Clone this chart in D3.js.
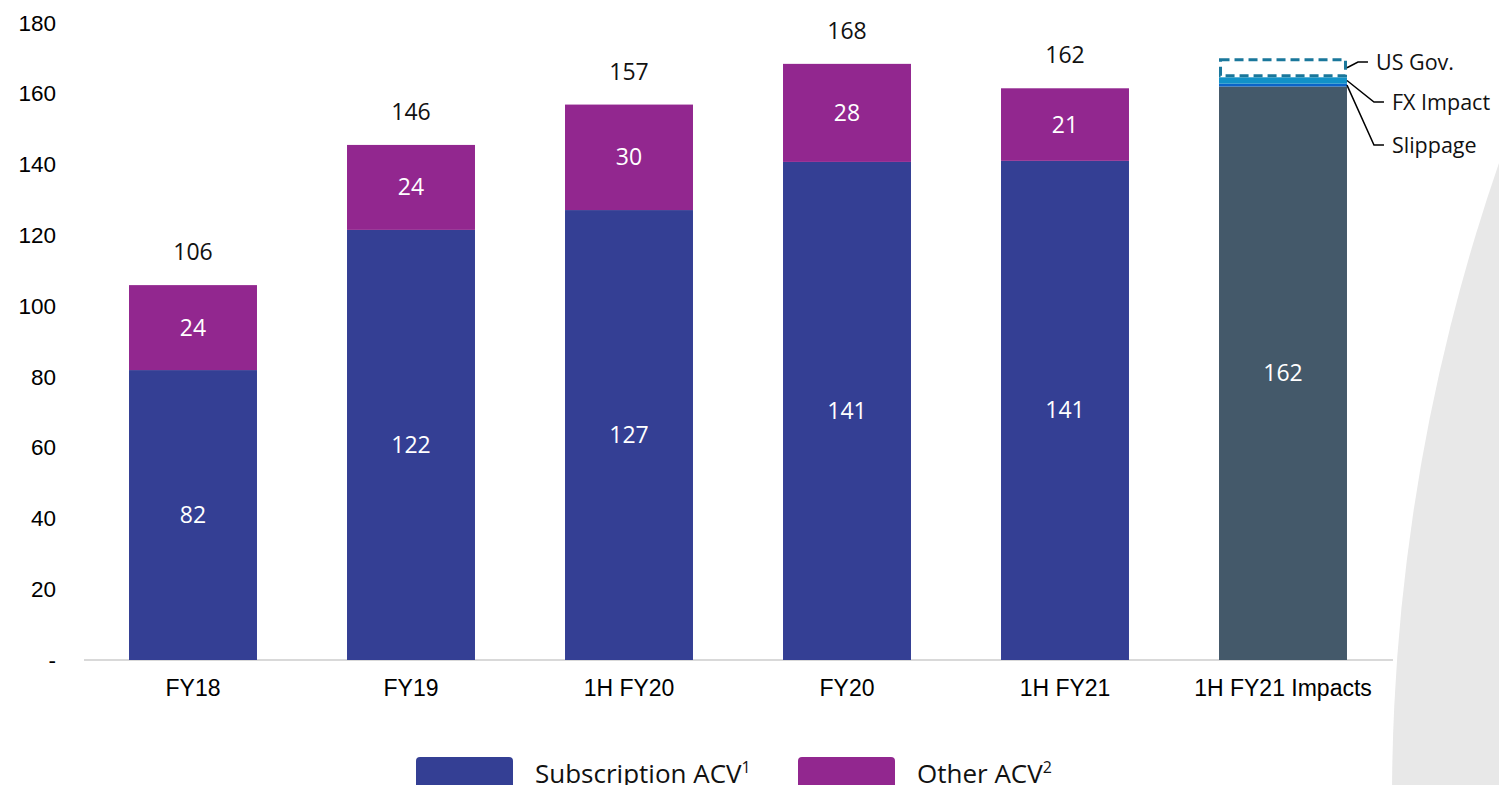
<!DOCTYPE html>
<html><head><meta charset="utf-8">
<script src="https://cdn.jsdelivr.net/npm/d3@7"></script>
<style>
html,body{margin:0;padding:0;background:#fff;}
svg{display:block;}
</style>
</head><body>
<svg id="chart" width="1499" height="785"></svg>
<script>
const categories = ["FY18","FY19","1H FY20","FY20","1H FY21","1H FY21 Impacts"];
const subscriptionACV = [81.9,121.5,127.1,140.7,141.0];
const otherACV = [24.0,24.0,29.8,27.7,20.5];
const impactBase = 162;
const impactNames = ["Slippage","FX Impact","US Gov."];
const impactValues = [0.8,1.8,5.4];
const yTicks = [0,20,40,60,80,100,120,140,160,180];

const svg = d3.select("#chart");

// background decorative shape
const R = 1950, cx = 1392 + R, cy = 800;
svg.append("circle").attr("cx",cx).attr("cy",cy).attr("r",R).attr("fill","#e8e8e8");

const x = d3.scaleBand().domain(categories).range([84,1392]).paddingInner(0.413).paddingOuter(0.2065);
const y = d3.scaleLinear().domain([0,180]).range([660,22.8]);

const colSub = "#343f94", colOther = "#92278f", colGray = "#44596a";
const fontNum = "'Open Sans', 'Noto Sans', sans-serif";
const fontAxis = "'Liberation Sans', Arial, sans-serif";

// axis line
svg.append("line").attr("x1",84).attr("x2",1393).attr("y1",y(0)).attr("y2",y(0))
  .attr("stroke","#d9d9d9").attr("stroke-width",2);

// y axis
const ya = svg.append("g").attr("transform","translate(56,0)")
  .call(d3.axisLeft(y).tickValues(yTicks).tickSize(0).tickPadding(0).tickFormat(d=> d===0 ? "-" : d));
ya.select(".domain").remove();
ya.selectAll("text").attr("font-family",fontAxis).attr("font-size",22.5).attr("fill","#000");

// x axis
const xa = svg.append("g").attr("transform",`translate(0,${y(0)})`)
  .call(d3.axisBottom(x).tickSize(0).tickPadding(20));
xa.select(".domain").remove();
xa.selectAll("text").attr("font-family",fontAxis).attr("font-size",23).attr("fill","#000");

const main = categories.slice(0,5).map((c,i)=>({c, s:subscriptionACV[i], o:otherACV[i], t:subscriptionACV[i]+otherACV[i]}));

const g = svg.append("g");
g.selectAll(".sub").data(main).join("rect")
  .attr("x",d=>x(d.c)).attr("width",x.bandwidth())
  .attr("y",d=>y(d.s)).attr("height",d=>y(0)-y(d.s)).attr("fill",colSub);
g.selectAll(".oth").data(main).join("rect")
  .attr("x",d=>x(d.c)).attr("width",x.bandwidth())
  .attr("y",d=>y(d.s+d.o)).attr("height",d=>y(d.s)-y(d.s+d.o)).attr("fill",colOther);

const fs = 23;
g.selectAll(".ls").data(main).join("text")
  .attr("x",d=>x(d.c)+x.bandwidth()/2).attr("y",d=>y(d.s/2)).attr("dy","0.35em")
  .attr("text-anchor","middle").attr("font-family",fontNum).attr("font-size",fs).attr("fill","#fff")
  .text(d=>Math.round(d.s));
g.selectAll(".lo").data(main).join("text")
  .attr("x",d=>x(d.c)+x.bandwidth()/2).attr("y",d=>y(d.s+d.o/2)).attr("dy","0.35em")
  .attr("text-anchor","middle").attr("font-family",fontNum).attr("font-size",fs).attr("fill","#fff")
  .text(d=>Math.round(d.o));
g.selectAll(".lt").data(main).join("text")
  .attr("x",d=>x(d.c)+x.bandwidth()/2).attr("y",d=>y(d.t)-33).attr("dy","0.35em")
  .attr("text-anchor","middle").attr("font-family",fontNum).attr("font-size",fs).attr("fill","#111")
  .text(d=>Math.round(d.t));

// impacts bar
const ic = categories[5];
const ix = x(ic), bw = x.bandwidth();
g.append("rect").attr("x",ix).attr("width",bw).attr("y",y(impactBase)).attr("height",y(0)-y(impactBase)).attr("fill",colGray);
g.append("text").attr("x",ix+bw/2).attr("y",y(impactBase/2)).attr("dy","0.35em")
  .attr("text-anchor","middle").attr("font-family",fontNum).attr("font-size",fs).attr("fill","#fff").text(impactBase);

let cum = impactBase;
const segs = impactValues.map((v,i)=>{const s={name:impactNames[i], y0:cum, y1:cum+v}; cum+=v; return s;});
g.append("rect").attr("x",ix).attr("width",bw).attr("y",y(segs[0].y1)).attr("height",y(segs[0].y0)-y(segs[0].y1)).attr("fill","#0b64c8");
g.append("rect").attr("x",ix).attr("width",bw).attr("y",y(segs[1].y1)).attr("height",y(segs[1].y0)-y(segs[1].y1)).attr("fill","#1192c8");
g.append("rect").attr("x",ix+1.5).attr("width",bw-3).attr("y",y(segs[2].y1)+1.5).attr("height",y(segs[2].y0)-y(segs[2].y1)-3)
  .attr("fill","none").attr("stroke","#1a779b").attr("stroke-width",3).attr("stroke-dasharray","9,5");

// annotations
const right = ix+bw;
const ann = [
  {seg:segs[2], ty:62, pts:[[right,y((segs[2].y0+segs[2].y1)/2)],[right+11,62],[right+21,62]], tx:right+29},
  {seg:segs[1], ty:102, pts:[[right,y((segs[1].y0+segs[1].y1)/2)],[right+27,102],[right+37,102]], tx:right+45},
  {seg:segs[0], ty:145, pts:[[right,y((segs[0].y0+segs[0].y1)/2)],[right+27,145],[right+37,145]], tx:right+45}
];
ann.forEach(a=>{
  svg.append("path").attr("d",d3.line()(a.pts)).attr("fill","none").attr("stroke","#000").attr("stroke-width",1.5);
  svg.append("text").attr("x",a.tx).attr("y",a.ty).attr("dy","0.35em")
    .attr("font-family",fontNum).attr("font-size",21.5).attr("fill","#111").text(a.seg.name);
});

// legend
const legend = [{name:"Subscription ACV", sup:"1", color:colSub, x:416},{name:"Other ACV", sup:"2", color:colOther, x:798}];
legend.forEach(l=>{
  svg.append("rect").attr("x",l.x).attr("y",757).attr("width",97).attr("height",40).attr("rx",4).attr("fill",l.color);
  const t = svg.append("text").attr("x",l.x+119).attr("y",783).attr("font-family",fontNum).attr("font-size",26).attr("fill","#111");
  t.append("tspan").text(l.name);
  t.append("tspan").attr("font-size",16).attr("dy",-10).text(l.sup);
});
</script>
</body></html>
